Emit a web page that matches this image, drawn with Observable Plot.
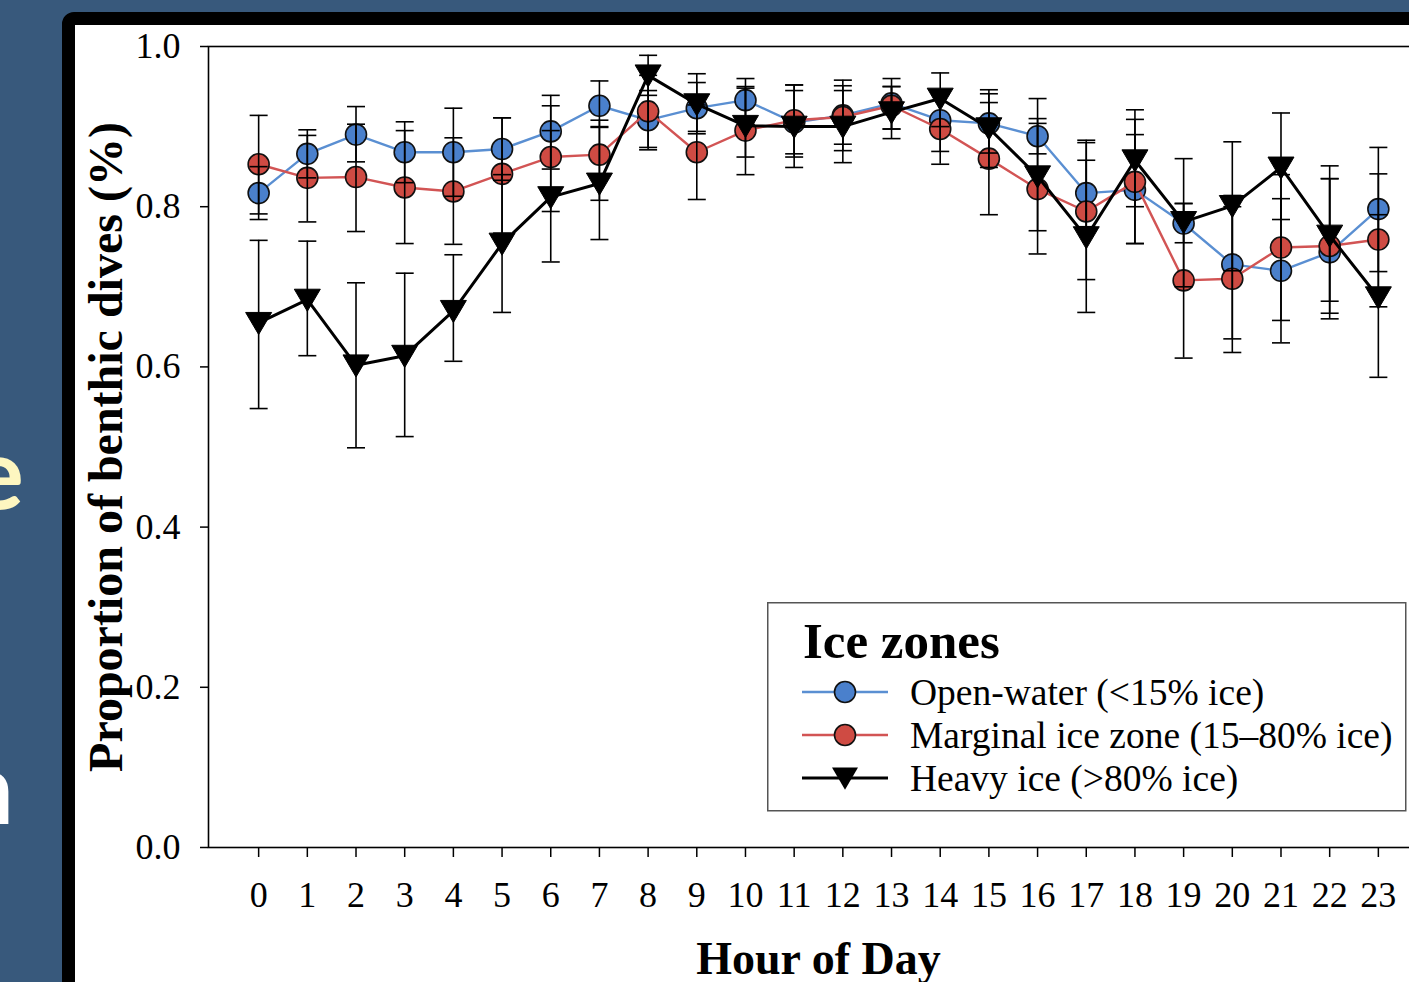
<!DOCTYPE html>
<html><head><meta charset="utf-8">
<script src="https://cdn.jsdelivr.net/npm/d3@7"></script>
<script src="https://cdn.jsdelivr.net/npm/@observablehq/plot@0.6"></script>
<style>
html,body{margin:0;padding:0;width:1409px;height:982px;overflow:hidden;background:#38597c;}
#panel{position:absolute;left:62px;top:12px;width:1500px;height:1100px;box-sizing:border-box;border:13px solid #000;border-radius:12px;background:#fff;}
#chart{position:absolute;left:0;top:0;width:1440px;}
#chart svg{max-width:none !important;}
#legend{position:absolute;left:767px;top:602px;}
.side{position:absolute;font-family:Lato,"Open Sans",sans-serif;font-weight:bold;font-size:100px;line-height:1;text-align:right;width:300px;}
</style></head>
<body>
<div class="side" style="left:-276px;top:420px;color:#fdf6c0;">e</div>
<div class="side" style="left:-286px;top:735px;color:#ffffff;">n</div>
<div id="panel"></div>
<div id="chart"></div>
<svg id="legend" width="642" height="212"></svg>
<script>
const hours = [0,1,2,3,4,5,6,7,8,9,10,11,12,13,14,15,16,17,18,19,20,21,22,23];
const zones = ["Open-water (<15% ice)", "Marginal ice zone (15–80% ice)", "Heavy ice (>80% ice)"];

const openWater   = [0.817,0.866,0.890,0.868,0.868,0.872,0.894,0.926,0.908,0.923,0.933,0.905,0.914,0.929,0.908,0.904,0.888,0.817,0.821,0.779,0.728,0.720,0.743,0.797];
const openWaterLo = [0.784,0.836,0.856,0.830,0.813,0.833,0.847,0.899,0.871,0.891,0.906,0.862,0.870,0.897,0.869,0.867,0.866,0.775,0.754,0.755,0.635,0.630,0.660,0.719];
const openWaterHi = [0.850,0.896,0.925,0.906,0.923,0.911,0.939,0.957,0.945,0.955,0.960,0.952,0.958,0.960,0.945,0.941,0.910,0.858,0.890,0.804,0.814,0.810,0.835,0.874];

const marginal    = [0.853,0.836,0.837,0.824,0.819,0.841,0.862,0.865,0.919,0.868,0.895,0.908,0.912,0.926,0.897,0.860,0.822,0.794,0.831,0.708,0.710,0.749,0.751,0.759];
const marginalLo  = [0.791,0.781,0.769,0.754,0.753,0.767,0.794,0.808,0.874,0.809,0.840,0.866,0.878,0.897,0.853,0.790,0.741,0.709,0.754,0.611,0.618,0.658,0.682,0.675];
const marginalHi  = [0.914,0.889,0.903,0.895,0.886,0.911,0.926,0.908,0.964,0.927,0.950,0.952,0.951,0.950,0.940,0.930,0.904,0.880,0.909,0.804,0.800,0.840,0.835,0.841];

const heavy       = [0.655,0.684,0.602,0.614,0.670,0.754,0.812,0.829,0.964,0.928,0.901,0.900,0.900,0.918,0.935,0.898,0.838,0.762,0.858,0.781,0.801,0.849,0.764,0.687];
const heavyLo     = [0.548,0.614,0.499,0.513,0.607,0.668,0.731,0.759,0.939,0.894,0.862,0.849,0.855,0.885,0.900,0.849,0.770,0.668,0.800,0.700,0.720,0.784,0.667,0.587];
const heavyHi     = [0.758,0.757,0.705,0.717,0.740,0.840,0.895,0.900,0.989,0.966,0.948,0.945,0.945,0.950,0.967,0.946,0.935,0.883,0.921,0.860,0.881,0.917,0.851,0.790];

const yTicks = [0, 0.2, 0.4, 0.6, 0.8, 1.0];

const series = [
  {zone: zones[0], v: openWater, lo: openWaterLo, hi: openWaterHi},
  {zone: zones[1], v: marginal, lo: marginalLo, hi: marginalHi},
  {zone: zones[2], v: heavy, lo: heavyLo, hi: heavyHi}
];
const rows = series.flatMap(s => hours.map((h, i) => ({hour: h, zone: s.zone, value: s.v[i], lo: s.lo[i], hi: s.hi[i]})));
const rowsOf = z => rows.filter(d => d.zone === z);

const serif = "'Liberation Serif','Times New Roman',serif";
const lineColor = {[zones[0]]: "#5a8fd2", [zones[1]]: "#d25454", [zones[2]]: "#000000"};
const fillColor = {[zones[0]]: "#4a80cc", [zones[1]]: "#cf4b43", [zones[2]]: "#000000"};
const lineWidth = {[zones[0]]: 2.4, [zones[1]]: 2.4, [zones[2]]: 3};

const capSym = {draw(ctx, size) { const r = Math.sqrt(size / Math.PI); ctx.moveTo(-r, 0); ctx.lineTo(r, 0); }};
const triDown = {draw(ctx, size) { const r = Math.sqrt(size / Math.PI); ctx.moveTo(-r, -r * 0.8); ctx.lineTo(r, -r * 0.8); ctx.lineTo(0, r * 0.9); ctx.closePath(); }};

const seriesMarks = zones.flatMap((z, k) => [
  Plot.line(rowsOf(z), {x: "hour", y: "value", stroke: lineColor[z], strokeWidth: lineWidth[z]}),
  k < 2
    ? Plot.dot(rowsOf(z), {x: "hour", y: "value", r: 10.5, fill: fillColor[z], stroke: "#111", strokeWidth: 1.6})
    : Plot.dot(rowsOf(z), {x: "hour", y: "value", r: 13, symbol: triDown, fill: "#000", stroke: "#000", strokeWidth: 1})
]);

const chart = Plot.plot({
  width: 1440,
  height: 982,
  marginLeft: 208,
  marginRight: 12,
  marginTop: 46,
  marginBottom: 135,
  x: {domain: [-1.03, 24.03]},
  y: {domain: [0, 1]},
  style: {fontFamily: serif, background: "transparent", color: "#000", overflow: "visible", maxWidth: "none"},
  marks: [
    Plot.frame({stroke: "#000", strokeWidth: 1.6}),
    Plot.axisY({ticks: yTicks, tickFormat: d3.format(".1f"), tickSize: 8, tickPadding: 20, fontSize: 36, label: null, strokeWidth: 1.5}),
    Plot.axisX({ticks: hours, tickFormat: d => String(d), tickSize: 10, tickPadding: 24, fontSize: 36, label: null, strokeWidth: 1.5}),
    Plot.text(["Proportion of benthic dives (%)"], {frameAnchor: "left", textAnchor: "middle", dx: -102, rotate: -90, fontSize: 48, fontWeight: "bold", fill: "#000"}),
    Plot.text(["Hour of Day"], {frameAnchor: "bottom", dy: 126, fontSize: 46, fontWeight: "bold", fill: "#000"}),
    ...seriesMarks,
    Plot.ruleX(rows, {x: "hour", y1: "lo", y2: "hi", stroke: "#000", strokeWidth: 1.6}),
    Plot.dot(rows, {x: "hour", y: "lo", r: 9, symbol: capSym, stroke: "#000", strokeWidth: 1.6, fill: "none"}),
    Plot.dot(rows, {x: "hour", y: "hi", r: 9, symbol: capSym, stroke: "#000", strokeWidth: 1.6, fill: "none"})
  ]
});
document.getElementById("chart").appendChild(chart);

// legend
const lg = d3.select("#legend");
lg.append("rect").attr("x", 0.75).attr("y", 0.75).attr("width", 638).attr("height", 208)
  .attr("fill", "#fff").attr("stroke", "#555").attr("stroke-width", 1.5);
lg.append("text").attr("x", 36).attr("y", 56).attr("font-family", serif).attr("font-weight", "bold")
  .attr("font-size", 51).text("Ice zones");
zones.forEach((z, i) => {
  const cy = 90 + i * 43;
  lg.append("line").attr("x1", 35).attr("x2", 121).attr("y1", cy).attr("y2", cy)
    .attr("stroke", lineColor[z]).attr("stroke-width", lineWidth[z]);
  if (i < 2) {
    lg.append("circle").attr("cx", 78).attr("cy", cy).attr("r", 10.5).attr("fill", fillColor[z])
      .attr("stroke", "#111").attr("stroke-width", 1.6);
  } else {
    lg.append("path").attr("transform", `translate(78,${cy})`)
      .attr("d", d3.symbol(triDown, Math.PI * 13 * 13)()).attr("fill", "#000");
  }
  lg.append("text").attr("x", 143).attr("y", cy).attr("dy", "0.35em").attr("font-family", serif)
    .attr("font-size", 37.5).text(z);
});
</script>
</body></html>
